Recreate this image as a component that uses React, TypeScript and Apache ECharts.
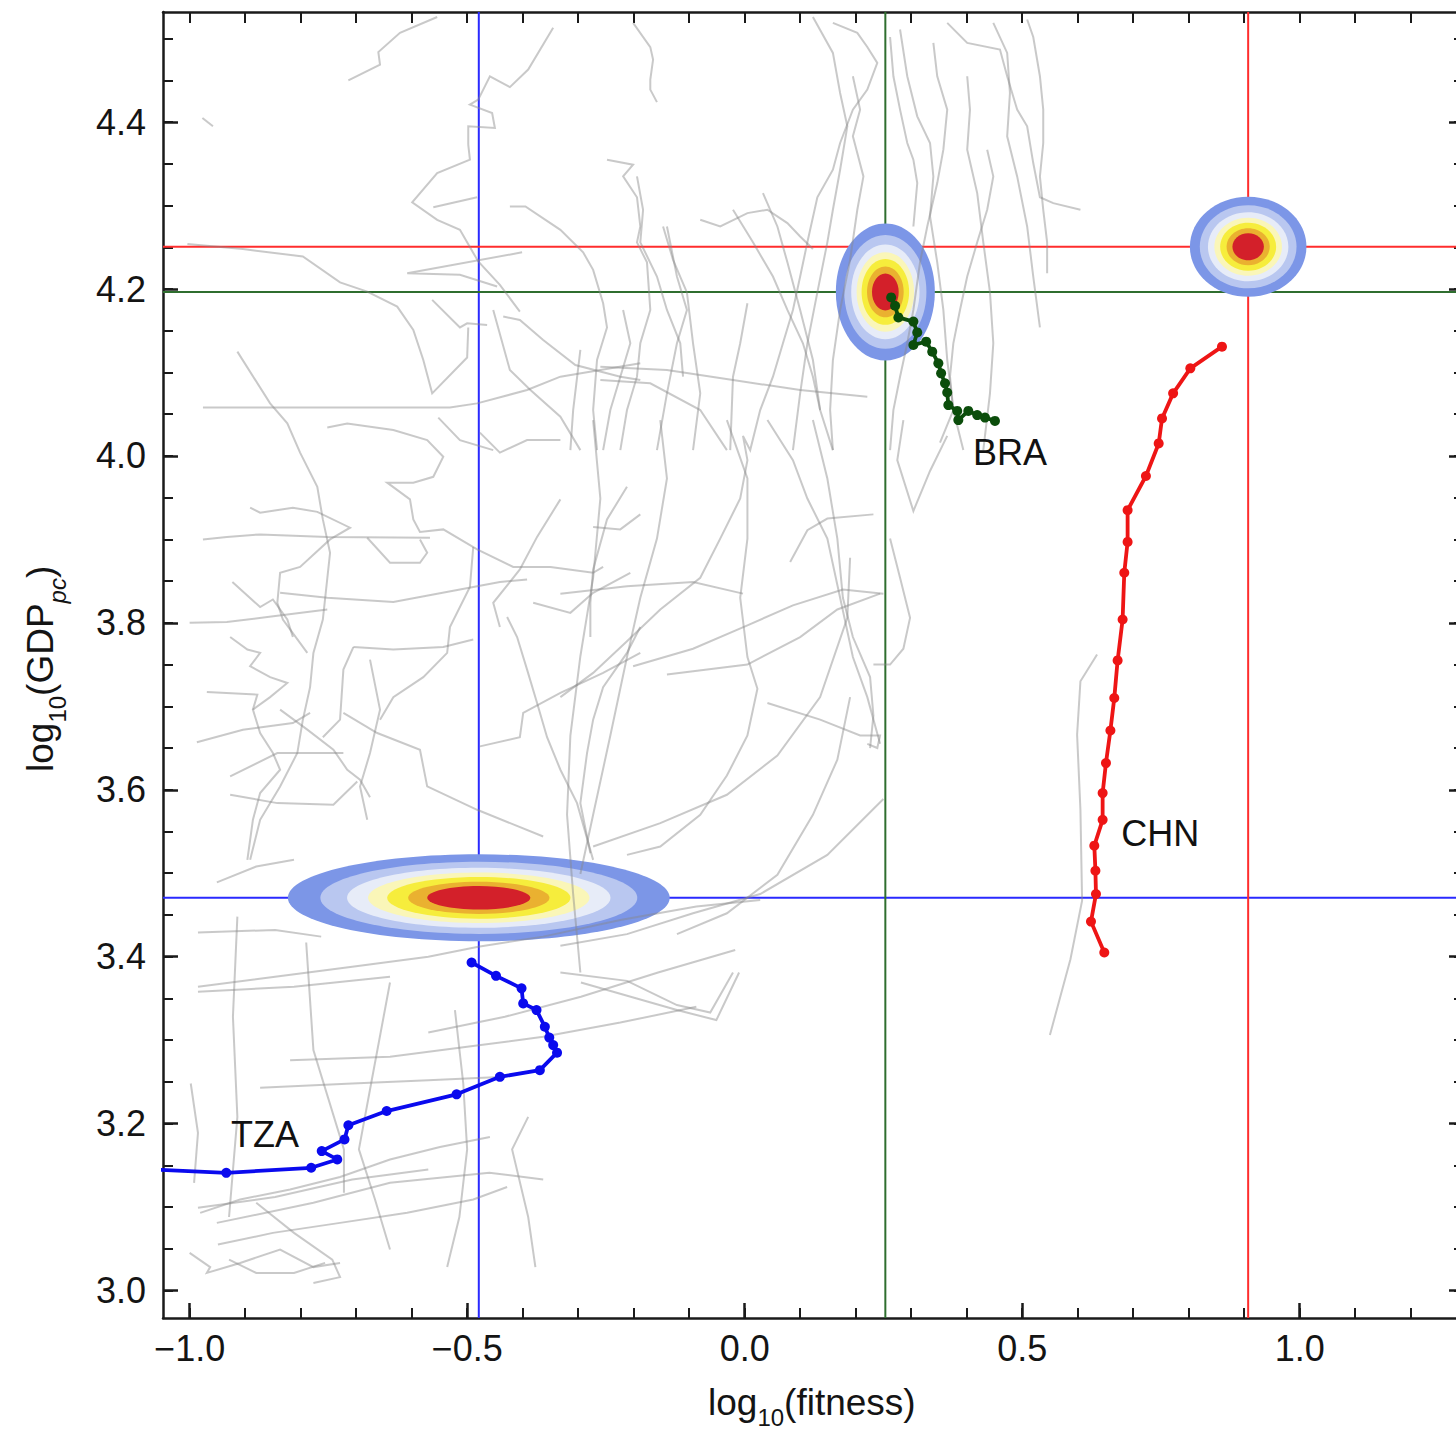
import { useEffect, useRef } from 'react';
import * as echarts from 'echarts';

const FONT = '"Liberation Sans", Arial, Helvetica, sans-serif';

// ---------- axes ----------
const xRange = [-1.048, 1.2961];
const yRange = [2.967, 4.532];
const xMajorTicks = [-1.0, -0.5, 0.0, 0.5, 1.0];
const xMinorTicks = [-1.0, -0.9, -0.8, -0.7, -0.6, -0.5, -0.4, -0.3, -0.2, -0.1, 0.0, 0.1, 0.2, 0.3, 0.4, 0.5, 0.6, 0.7, 0.8, 0.9, 1.0, 1.1, 1.2];
const yMajorTicks = [3.0, 3.2, 3.4, 3.6, 3.8, 4.0, 4.2, 4.4];
const yMinorTicks = [3.0, 3.05, 3.1, 3.15, 3.2, 3.25, 3.3, 3.35, 3.4, 3.45, 3.5, 3.55, 3.6, 3.65, 3.7, 3.75, 3.8, 3.85, 3.9, 3.95, 4.0, 4.05, 4.1, 4.15, 4.2, 4.25, 4.3, 4.35, 4.4, 4.45, 4.5];

// ---------- blobs & crosshairs (TZA, BRA, CHN) ----------
const blobCenters = [[-0.479, 3.4705], [0.2535, 4.1966], [0.9072, 4.2507]];
const blobRadii = [[0.344, 0.0521], [0.0892, 0.0821], [0.105, 0.06]];
const crossColors = ['#2a2aff', '#2f6e2f', '#ff2d2d'];
const blobLayerScale = [1, 0.83, 0.69, 0.58, 0.48, 0.37, 0.27];
const blobLayerColors = ['#7c96e7', '#b9c7f0', '#e7ecf8', '#faf6b8', '#f6ed3c', '#eab130', '#d3202a'];

// ---------- highlighted trajectories ----------
const tzaPath = [[-1.071, 3.145], [-0.934, 3.141], [-0.781, 3.147], [-0.734, 3.157], [-0.762, 3.167], [-0.721, 3.181], [-0.714, 3.198], [-0.645, 3.215], [-0.519, 3.235], [-0.441, 3.256], [-0.369, 3.264], [-0.338, 3.285], [-0.345, 3.294], [-0.352, 3.303], [-0.36, 3.316], [-0.375, 3.336], [-0.399, 3.344], [-0.402, 3.362], [-0.448, 3.377], [-0.492, 3.393]];
const braPath = [[0.264, 4.19], [0.271, 4.18], [0.277, 4.166], [0.304, 4.161], [0.311, 4.148], [0.304, 4.133], [0.327, 4.137], [0.338, 4.125], [0.349, 4.111], [0.354, 4.099], [0.361, 4.087], [0.365, 4.076], [0.367, 4.061], [0.383, 4.054], [0.385, 4.043], [0.403, 4.054], [0.419, 4.049], [0.433, 4.046], [0.451, 4.042]];
const chnPath = [[0.648, 3.405], [0.624, 3.442], [0.633, 3.475], [0.632, 3.503], [0.63, 3.533], [0.645, 3.564], [0.645, 3.596], [0.651, 3.632], [0.659, 3.671], [0.666, 3.71], [0.672, 3.755], [0.681, 3.804], [0.684, 3.86], [0.69, 3.897], [0.69, 3.935], [0.723, 3.976], [0.746, 4.015], [0.752, 4.045], [0.772, 4.075], [0.803, 4.105], [0.86, 4.131]];
const pathColors = ['#0a0aee', '#0b4d0b', '#ee1515'];
const countryLabels = [['BRA', 0.478, 4.004], ['CHN', 0.749, 3.547], ['TZA', -0.864, 3.187]];

// ---------- background trajectories (grey) ----------
const grayTracks = [
  [[-0.714, 4.45], [-0.657, 4.469], [-0.66, 4.484], [-0.621, 4.507], [-0.554, 4.526]],
  [[-0.977, 4.405], [-0.958, 4.395]],
  [[-0.345, 4.513], [-0.39, 4.463], [-0.423, 4.442], [-0.459, 4.455], [-0.48, 4.427], [-0.495, 4.421], [-0.455, 4.411], [-0.45, 4.393], [-0.498, 4.395], [-0.498, 4.373], [-0.495, 4.355], [-0.554, 4.339], [-0.599, 4.304], [-0.554, 4.283], [-0.513, 4.271], [-0.48, 4.233], [-0.441, 4.205], [-0.405, 4.173]],
  [[-0.561, 4.298], [-0.482, 4.31]],
  [[-0.423, 4.299], [-0.395, 4.299], [-0.332, 4.271], [-0.291, 4.244], [-0.273, 4.223], [-0.255, 4.183], [-0.248, 4.154], [-0.266, 4.115], [-0.273, 4.055], [-0.266, 4.007]],
  [[-0.248, 4.355], [-0.201, 4.349], [-0.219, 4.335], [-0.194, 4.31], [-0.188, 4.275], [-0.194, 4.256], [-0.176, 4.232], [-0.17, 4.175], [-0.188, 4.135], [-0.194, 4.095], [-0.212, 4.055], [-0.224, 4.007]],
  [[-1.004, 4.254], [-0.904, 4.248], [-0.796, 4.239], [-0.729, 4.208], [-0.68, 4.197], [-0.626, 4.179], [-0.597, 4.151], [-0.579, 4.115], [-0.563, 4.075], [-0.5, 4.118], [-0.498, 4.154]],
  [[-0.401, 4.244], [-0.608, 4.219], [-0.513, 4.217], [-0.446, 4.203]],
  [[-0.563, 4.187], [-0.513, 4.154], [-0.5, 4.159], [-0.464, 4.157]],
  [[-0.914, 4.125], [-0.855, 4.063], [-0.824, 4.039], [-0.801, 4.004], [-0.77, 3.963], [-0.76, 3.924], [-0.747, 3.884], [-0.76, 3.804], [-0.777, 3.764], [-0.783, 3.723], [-0.796, 3.684], [-0.806, 3.644], [-0.837, 3.604], [-0.873, 3.564], [-0.891, 3.516]],
  [[-0.976, 4.058], [-0.531, 4.058], [-0.482, 4.063], [-0.392, 4.079], [-0.332, 4.095], [-0.188, 4.111]],
  [[-0.552, 4.046], [-0.513, 4.019], [-0.453, 4.007]],
  [[-0.453, 4.175], [-0.423, 4.103], [-0.386, 4.079], [-0.332, 4.047], [-0.296, 4.007]],
  [[-0.435, 4.167], [-0.405, 4.163], [-0.363, 4.139], [-0.305, 4.109], [-0.224, 4.095], [-0.188, 4.091]],
  [[-0.219, 4.175], [-0.206, 4.135], [-0.224, 4.095], [-0.242, 4.055], [-0.255, 4.007]],
  [[-0.296, 4.127], [-0.309, 4.055], [-0.314, 4.007]],
  [[-0.201, 4.519], [-0.17, 4.49], [-0.165, 4.475], [-0.17, 4.451], [-0.17, 4.439], [-0.158, 4.424]],
  [[0.159, 4.519], [0.203, 4.507], [0.221, 4.49], [0.239, 4.471], [0.221, 4.439], [0.195, 4.415], [0.172, 4.375], [0.159, 4.343], [0.131, 4.31], [0.113, 4.256], [0.1, 4.215], [0.087, 4.175], [0.069, 4.135], [0.051, 4.095], [0.028, 4.055], [0.01, 4.007], [-0.003, 4.024], [0.005, 3.995], [-0.008, 3.949], [-0.044, 3.901], [-0.08, 3.854], [-0.152, 3.816], [-0.212, 3.778], [-0.273, 3.74], [-0.332, 3.711]],
  [[0.262, 4.502], [0.268, 4.455], [0.28, 4.415], [0.293, 4.375], [0.304, 4.355], [0.311, 4.327], [0.304, 4.275]],
  [[0.34, 4.495], [0.347, 4.455], [0.365, 4.415], [0.358, 4.367], [0.347, 4.327], [0.329, 4.275], [0.316, 4.232], [0.304, 4.175], [0.293, 4.135], [0.28, 4.095], [0.268, 4.055], [0.262, 4.007]],
  [[0.365, 4.519], [0.401, 4.495], [0.46, 4.487], [0.473, 4.455], [0.491, 4.415], [0.509, 4.395], [0.52, 4.351], [0.532, 4.31], [0.556, 4.303], [0.605, 4.295]],
  [[0.509, 4.523], [0.52, 4.502], [0.532, 4.455], [0.538, 4.415], [0.538, 4.375], [0.532, 4.335], [0.538, 4.295], [0.545, 4.256], [0.545, 4.219]],
  [[0.437, 4.367], [0.448, 4.335], [0.437, 4.295], [0.419, 4.256], [0.401, 4.215], [0.388, 4.175], [0.376, 4.135], [0.37, 4.095], [0.376, 4.055], [0.352, 4.016]],
  [[-0.08, 4.283], [-0.044, 4.275], [0.005, 4.291], [0.041, 4.295], [0.077, 4.279], [0.1, 4.263], [0.123, 4.248]],
  [[-0.26, 4.107], [-0.14, 4.103], [-0.021, 4.091], [0.1, 4.079], [0.221, 4.071]],
  [[-0.26, 4.091], [-0.17, 4.087], [-0.08, 4.055], [-0.032, 4.007]],
  [[-0.147, 4.275], [-0.129, 4.235], [-0.104, 4.196], [-0.093, 4.135], [-0.08, 4.075], [-0.093, 4.007]],
  [[0.005, 4.183], [-0.008, 4.135], [-0.021, 4.095], [-0.026, 4.007]],
  [[-0.752, 4.034], [-0.716, 4.039], [-0.633, 4.031], [-0.572, 4.019], [-0.543, 3.999], [-0.561, 3.975], [-0.597, 3.968], [-0.644, 3.968], [-0.603, 3.948], [-0.597, 3.924], [-0.585, 3.909], [-0.543, 3.912], [-0.482, 3.888], [-0.417, 3.867], [-0.35, 3.867], [-0.273, 3.86], [-0.255, 3.867]],
  [[-0.976, 3.9], [-0.933, 3.903], [-0.873, 3.906], [-0.752, 3.903], [-0.567, 3.902]],
  [[-0.891, 3.938], [-0.873, 3.932], [-0.814, 3.938], [-0.77, 3.933], [-0.711, 3.914], [-0.747, 3.9], [-0.801, 3.867], [-0.837, 3.86], [-0.842, 3.824], [-0.832, 3.804], [-0.788, 3.764]],
  [[-0.68, 3.902], [-0.639, 3.872], [-0.585, 3.872], [-0.572, 3.884], [-0.585, 3.9]],
  [[-1.0, 3.8], [-0.933, 3.801], [-0.86, 3.807], [-0.752, 3.816]],
  [[-0.923, 3.849], [-0.873, 3.819], [-0.85, 3.828], [-0.824, 3.804], [-0.814, 3.783]],
  [[-0.837, 3.836], [-0.752, 3.83], [-0.633, 3.825], [-0.513, 3.84], [-0.441, 3.849], [-0.392, 3.852]],
  [[-0.927, 3.783], [-0.896, 3.768], [-0.873, 3.764], [-0.891, 3.748], [-0.855, 3.735], [-0.824, 3.728], [-0.855, 3.711], [-0.886, 3.696], [-0.873, 3.668], [-0.85, 3.644], [-0.837, 3.624], [-0.873, 3.596], [-0.886, 3.564], [-0.896, 3.516]],
  [[-0.969, 3.717], [-0.878, 3.714], [-0.886, 3.696]],
  [[-0.987, 3.657], [-0.904, 3.672], [-0.814, 3.68], [-0.783, 3.692]],
  [[-0.837, 3.696], [-0.788, 3.672], [-0.741, 3.648], [-0.716, 3.624], [-0.693, 3.612], [-0.675, 3.591]],
  [[-0.705, 3.771], [-0.633, 3.768], [-0.543, 3.771], [-0.489, 3.78]],
  [[-0.705, 3.771], [-0.723, 3.744], [-0.729, 3.684], [-0.76, 3.663]],
  [[-0.675, 3.756], [-0.657, 3.696], [-0.675, 3.644], [-0.693, 3.604], [-0.68, 3.564]],
  [[-0.489, 3.891], [-0.495, 3.843], [-0.531, 3.795], [-0.536, 3.764], [-0.579, 3.735], [-0.633, 3.711], [-0.657, 3.684]],
  [[-0.723, 3.692], [-0.662, 3.668], [-0.585, 3.648], [-0.572, 3.604], [-0.482, 3.576], [-0.363, 3.544]],
  [[-0.927, 3.616], [-0.842, 3.644], [-0.723, 3.644]],
  [[-0.927, 3.594], [-0.842, 3.584], [-0.741, 3.582], [-0.698, 3.61]],
  [[-0.477, 4.028], [-0.441, 4.004], [-0.392, 4.019], [-0.332, 4.019]],
  [[-0.428, 3.807], [-0.41, 3.783], [-0.392, 3.744], [-0.374, 3.704], [-0.356, 3.663], [-0.332, 3.624], [-0.302, 3.584], [-0.273, 3.516]],
  [[-0.278, 3.524], [-0.296, 3.584], [-0.284, 3.644], [-0.273, 3.684], [-0.255, 3.723], [-0.212, 3.764], [-0.188, 3.795]],
  [[-0.332, 3.948], [-0.374, 3.903], [-0.405, 3.864], [-0.453, 3.824], [-0.441, 3.795]],
  [[-0.477, 3.652], [-0.405, 3.663], [-0.399, 3.692], [-0.332, 3.716], [-0.255, 3.74], [-0.188, 3.764]],
  [[-0.212, 3.963], [-0.248, 3.924], [-0.273, 3.864], [-0.278, 3.824], [-0.278, 3.783]],
  [[-0.273, 3.915], [-0.224, 3.912], [-0.188, 3.93]],
  [[-0.381, 3.824], [-0.314, 3.812], [-0.273, 3.836], [-0.206, 3.86]],
  [[-0.332, 3.835], [-0.212, 3.844], [-0.093, 3.849], [-0.003, 3.835]],
  [[-0.201, 3.748], [-0.093, 3.769], [0.005, 3.797], [0.087, 3.821], [0.177, 3.84], [0.25, 3.835]],
  [[-0.14, 3.738], [0.005, 3.75], [0.1, 3.783], [0.167, 3.816], [0.244, 3.835]],
  [[0.041, 3.704], [0.136, 3.684], [0.208, 3.665], [0.244, 3.665], [0.239, 3.65], [0.221, 3.655]],
  [[0.123, 4.043], [0.149, 3.973], [0.167, 3.901], [0.177, 3.83], [0.195, 3.783], [0.226, 3.735], [0.232, 3.689], [0.226, 3.65]],
  [[0.286, 4.043], [0.275, 3.995], [0.304, 3.934], [0.334, 3.982], [0.365, 4.024]],
  [[0.262, 3.901], [0.28, 3.854], [0.298, 3.806], [0.286, 3.769], [0.262, 3.75], [0.232, 3.75]],
  [[0.082, 3.873], [0.113, 3.911], [0.149, 3.925], [0.232, 3.93]],
  [[-0.273, 3.532], [-0.152, 3.56], [-0.032, 3.594], [0.059, 3.641], [0.136, 3.711], [0.185, 3.806], [0.19, 3.878]],
  [[-0.332, 3.413], [-0.212, 3.427], [-0.093, 3.452], [0.028, 3.475], [0.149, 3.522], [0.25, 3.589]],
  [[-0.332, 3.381], [-0.212, 3.371], [-0.122, 3.342], [-0.062, 3.333], [-0.021, 3.381]],
  [[0.635, 3.762], [0.605, 3.73], [0.599, 3.666], [0.605, 3.576], [0.608, 3.467], [0.587, 3.397], [0.55, 3.306]],
  [[-0.985, 3.364], [-0.846, 3.376], [-0.707, 3.388], [-0.57, 3.4], [-0.48, 3.412], [-0.363, 3.424], [-0.224, 3.444], [-0.087, 3.46], [0.028, 3.468]],
  [[-0.985, 3.358], [-0.812, 3.364], [-0.639, 3.376]],
  [[-0.57, 3.309], [-0.432, 3.328], [-0.295, 3.352], [-0.156, 3.381], [-0.017, 3.408]],
  [[-0.819, 3.276], [-0.639, 3.28], [-0.5, 3.292], [-0.363, 3.304], [-0.224, 3.321], [-0.087, 3.34]],
  [[-0.873, 3.243], [-0.707, 3.248], [-0.57, 3.252], [-0.432, 3.256]],
  [[-0.295, 3.369], [-0.122, 3.336], [-0.051, 3.324], [-0.01, 3.381]],
  [[-0.951, 3.081], [-0.777, 3.105], [-0.639, 3.129], [-0.46, 3.141], [-0.363, 3.133]],
  [[-0.985, 3.099], [-0.846, 3.112], [-0.707, 3.133], [-0.57, 3.145]],
  [[-0.88, 3.105], [-0.812, 3.069], [-0.743, 3.037], [-0.729, 3.016], [-0.777, 3.009]],
  [[-0.929, 3.037], [-0.88, 3.021], [-0.812, 3.021], [-0.756, 3.033]],
  [[-0.914, 3.448], [-0.922, 3.328], [-0.914, 3.208], [-0.929, 3.088]],
  [[-0.79, 3.417], [-0.777, 3.288], [-0.722, 3.169], [-0.722, 3.117]],
  [[-0.639, 3.369], [-0.673, 3.248], [-0.695, 3.169], [-0.666, 3.109], [-0.639, 3.049]],
  [[-0.522, 3.336], [-0.507, 3.248], [-0.5, 3.169], [-0.514, 3.088], [-0.536, 3.028]],
  [[-0.39, 3.208], [-0.419, 3.169], [-0.39, 3.088], [-0.377, 3.028]],
  [[-0.998, 3.248], [-0.985, 3.189], [-0.992, 3.129]],
  [[-0.981, 3.093], [-0.909, 3.109], [-0.819, 3.121], [-0.729, 3.136], [-0.639, 3.157], [-0.549, 3.172], [-0.459, 3.184]],
  [[-0.949, 3.055], [-0.85, 3.069], [-0.729, 3.081], [-0.608, 3.093], [-0.489, 3.109], [-0.428, 3.124]],
  [[-1.0, 3.045], [-0.963, 3.028], [-0.969, 3.021], [-0.909, 3.033], [-0.837, 3.049], [-0.777, 3.028], [-0.729, 3.033]],
  [[0.123, 4.526], [0.159, 4.483], [0.172, 4.435], [0.185, 4.395], [0.172, 4.343], [0.159, 4.295], [0.149, 4.256], [0.131, 4.196], [0.113, 4.135], [0.1, 4.075], [0.087, 4.007]],
  [[0.195, 4.455], [0.208, 4.415], [0.195, 4.383], [0.214, 4.335], [0.203, 4.295], [0.19, 4.235], [0.172, 4.175], [0.159, 4.115], [0.154, 4.055], [0.159, 4.007]],
  [[0.28, 4.511], [0.293, 4.455], [0.311, 4.407], [0.334, 4.375], [0.34, 4.335], [0.334, 4.287], [0.347, 4.232], [0.358, 4.175], [0.365, 4.115], [0.376, 4.055], [0.394, 4.007]],
  [[0.401, 4.455], [0.406, 4.415], [0.401, 4.367], [0.419, 4.315], [0.43, 4.256], [0.442, 4.196], [0.448, 4.135], [0.442, 4.075], [0.43, 4.007]],
  [[0.448, 4.519], [0.473, 4.483], [0.478, 4.435], [0.473, 4.383], [0.491, 4.335], [0.509, 4.275], [0.52, 4.215], [0.532, 4.154]],
  [[-0.194, 4.335], [-0.183, 4.295], [-0.188, 4.256], [-0.158, 4.215], [-0.14, 4.175], [-0.116, 4.135], [-0.111, 4.095]],
  [[-0.14, 4.275], [-0.122, 4.215], [-0.104, 4.175], [-0.122, 4.135], [-0.14, 4.075], [-0.158, 4.007]],
  [[-0.021, 4.295], [0.015, 4.256], [0.051, 4.215], [0.077, 4.175], [0.105, 4.135], [0.123, 4.095], [0.136, 4.055], [0.159, 4.007]],
  [[0.033, 4.315], [0.059, 4.275], [0.077, 4.232], [0.1, 4.175], [0.123, 4.115], [0.136, 4.055]],
  [[-0.273, 4.043], [-0.26, 3.949], [-0.273, 3.854], [-0.296, 3.76], [-0.314, 3.665], [-0.32, 3.57], [-0.309, 3.475], [-0.296, 3.381]],
  [[-0.152, 4.043], [-0.14, 3.973], [-0.158, 3.901], [-0.188, 3.83], [-0.212, 3.759], [-0.242, 3.665], [-0.273, 3.57], [-0.296, 3.499]],
  [[-0.032, 4.043], [0.005, 3.973], [0.005, 3.901], [-0.008, 3.83], [0.005, 3.759], [0.023, 3.721], [0.005, 3.665], [-0.032, 3.617], [-0.08, 3.57], [-0.152, 3.532], [-0.212, 3.522]],
  [[0.041, 4.043], [0.087, 3.995], [0.113, 3.949], [0.149, 3.901], [0.172, 3.83], [0.195, 3.759], [0.221, 3.711], [0.244, 3.655]],
  [[-0.122, 3.427], [-0.032, 3.452], [0.059, 3.498], [0.123, 3.57], [0.167, 3.636], [0.19, 3.711]],
  [[-0.951, 3.489], [-0.88, 3.508], [-0.812, 3.516]],
  [[-0.985, 3.429], [-0.846, 3.432], [-0.763, 3.424]],
];

// ---------- titles ----------
const xTitleParts = [{ t: 'log' }, { t: '10', sub: true }, { t: '(fitness)' }];
const yTitleParts = [{ t: 'log' }, { t: '10', sub: true }, { t: '(GDP' }, { t: 'pc', sub: true, italic: true }, { t: ')' }];

const fmtTick = (v: number) => (v < 0 ? '\u2212' : '') + Math.abs(v).toFixed(1);

function buildTitle(parts: any[], mainSize: number, subSize: number, subDrop: number) {
  const ctx = document.createElement('canvas').getContext('2d') as CanvasRenderingContext2D;
  let x = 0;
  const els: any[] = [];
  for (const p of parts) {
    const size = p.sub ? subSize : mainSize;
    const font = `${p.italic ? 'italic ' : ''}${size}px ${FONT}`;
    const base = p.sub ? subDrop : 0;
    els.push({
      type: 'text',
      x,
      y: base - 0.3465 * size,
      style: { text: p.t, font, fill: '#141414', align: 'left', verticalAlign: 'middle', textAlign: 'left', textVerticalAlign: 'middle' },
    });
    ctx.font = font;
    x += ctx.measureText(p.t).width;
  }
  return els;
}

export default function App() {
  const ref = useRef<HTMLDivElement>(null);
  useEffect(() => {
    if (!ref.current) return;
    const chart = echarts.init(ref.current, undefined, { renderer: 'svg' });
    const axisColor = '#1a1a1a';
    const baseX = { type: 'value', min: xRange[0], max: xRange[1], splitLine: { show: false } };
    const baseY = { type: 'value', min: yRange[0], max: yRange[1], splitLine: { show: false } };

    const series: any[] = [];
    // crosshairs
    blobCenters.forEach((c, i) => {
      series.push({
        type: 'line', z: 1, silent: true, symbol: 'none', clip: true,
        data: [[c[0], yRange[0]], [c[0], yRange[1]]],
        lineStyle: { color: crossColors[i], width: 2 },
      });
      series.push({
        type: 'line', z: 1, silent: true, symbol: 'none', clip: true,
        data: [[xRange[0], c[1]], [xRange[1], c[1]]],
        lineStyle: { color: crossColors[i], width: 2 },
      });
    });
    // blobs
    series.push({
      type: 'custom', z: 2, silent: true,
      data: blobCenters.map((c, i) => [c[0], c[1], blobRadii[i][0], blobRadii[i][1]]),
      encode: { x: 0, y: 1 },
      renderItem: (_p: any, api: any) => {
        const c = api.coord([api.value(0), api.value(1)]);
        const s = api.size([api.value(2), api.value(3)]);
        return {
          type: 'group',
          children: blobLayerScale.map((k, i) => ({
            type: 'ellipse',
            shape: { cx: c[0], cy: c[1], rx: s[0] * k, ry: s[1] * k },
            style: { fill: blobLayerColors[i] },
          })),
        };
      },
    });
    // grey background trajectories
    series.push({
      type: 'lines', coordinateSystem: 'cartesian2d', polyline: true, z: 3, silent: true,
      data: grayTracks.map((t) => ({ coords: t })),
      lineStyle: { color: '#888888', opacity: 0.45, width: 2 },
    });
    // highlighted trajectories
    [tzaPath, braPath, chnPath].forEach((p, i) => {
      series.push({
        type: 'line', z: 4, silent: true, clip: true,
        data: p, symbol: 'circle', symbolSize: 10, showSymbol: true,
        lineStyle: { color: pathColors[i], width: 3.8 },
        itemStyle: { color: pathColors[i] },
      });
    });
    // country labels
    series.push({
      type: 'scatter', z: 5, silent: true,
      data: countryLabels.map((l) => [l[1], l[2], l[0]]),
      symbolSize: 1, itemStyle: { color: 'rgba(0,0,0,0)', opacity: 1 },
      label: {
        show: true, position: 'inside', formatter: (p: any) => p.value[2],
        fontSize: 36, fontFamily: FONT, color: '#111111', opacity: 1,
      },
    });

    const noZero = { onZero: false };
    chart.setOption({
      animation: false,
      backgroundColor: '#ffffff',
      grid: { left: 163, top: 12, right: 36, bottom: 115, containLabel: false },
      xAxis: [
        {
          ...baseX, position: 'bottom',
          axisLine: { ...noZero, show: true, lineStyle: { color: axisColor, width: 2.5 } },
          axisTick: { show: true, inside: true, length: 15, customValues: xMajorTicks, lineStyle: { color: axisColor, width: 2.5 } },
          axisLabel: { show: true, customValues: xMajorTicks, formatter: fmtTick, fontSize: 36, fontFamily: FONT, color: '#141414', margin: 12 },
        },
        {
          ...baseX, position: 'bottom',
          axisLine: { ...noZero, show: false },
          axisTick: { show: true, inside: true, length: 10, customValues: xMinorTicks, lineStyle: { color: axisColor, width: 2 } },
          axisLabel: { show: false },
        },
        {
          ...baseX, position: 'top',
          axisLine: { ...noZero, show: true, lineStyle: { color: axisColor, width: 2.5 } },
          axisTick: { show: true, inside: true, length: 11, customValues: xMinorTicks, lineStyle: { color: axisColor, width: 2 } },
          axisLabel: { show: false },
        },
      ],
      yAxis: [
        {
          ...baseY, position: 'left',
          axisLine: { ...noZero, show: true, lineStyle: { color: axisColor, width: 2.5 } },
          axisTick: { show: true, inside: true, length: 15, customValues: yMajorTicks, lineStyle: { color: axisColor, width: 2.5 } },
          axisLabel: { show: true, customValues: yMajorTicks, formatter: fmtTick, fontSize: 36, fontFamily: FONT, color: '#141414', margin: 17 },
        },
        {
          ...baseY, position: 'left',
          axisLine: { ...noZero, show: false },
          axisTick: { show: true, inside: true, length: 10, customValues: yMinorTicks, lineStyle: { color: axisColor, width: 2 } },
          axisLabel: { show: false },
        },
        {
          ...baseY, position: 'right',
          axisLine: { ...noZero, show: true, lineStyle: { color: axisColor, width: 2.5 } },
          axisTick: { show: true, inside: true, length: 10, customValues: yMinorTicks, lineStyle: { color: axisColor, width: 2 } },
          axisLabel: { show: false },
        },
        {
          ...baseY, position: 'right',
          axisLine: { ...noZero, show: false },
          axisTick: { show: true, inside: true, length: 15, customValues: yMajorTicks, lineStyle: { color: axisColor, width: 2.5 } },
          axisLabel: { show: false },
        },
      ],
      graphic: [
        { type: 'group', x: 708, y: 1415, children: buildTitle(xTitleParts, 37, 24, 11) },
        { type: 'group', x: 53, y: 772, rotation: Math.PI / 2, children: buildTitle(yTitleParts, 37, 24, 13) },
      ],
      series,
    });
    return () => chart.dispose();
  }, []);

  return (
    <div style={{ position: 'absolute', left: 0, top: 0, width: 1456, height: 1433, overflow: 'hidden', background: '#fff' }}>
      <div ref={ref} style={{ width: 1500, height: 1433 }} />
    </div>
  );
}
